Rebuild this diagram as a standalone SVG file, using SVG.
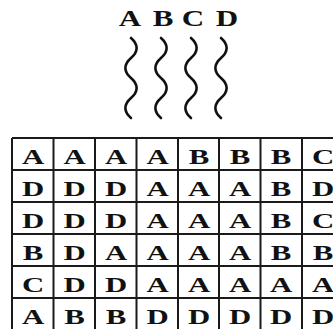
<svg xmlns="http://www.w3.org/2000/svg" width="333" height="329" viewBox="0 0 333 329">
<style>
.t{font-family:"Liberation Serif","Times New Roman",serif;font-weight:bold;font-size:22px;fill:#111;text-anchor:middle}
.h{font-size:23px}
.w{fill:none;stroke:#111;stroke-width:2.6;stroke-linecap:round}
.g{stroke:#1a1a1a;stroke-width:2;fill:none}
</style>
<rect width="333" height="329" fill="#fff"/>
<g id="labels">
<text class="t h" transform="translate(130,26) scale(1.35,1)">A</text>
<text class="t h" transform="translate(163,26) scale(1.35,1)">B</text>
<text class="t h" transform="translate(193,26) scale(1.35,1)">C</text>
<text class="t h" transform="translate(227,26) scale(1.35,1)">D</text>
</g>
<g id="waves">
<path class="w" d="M131,38 c7.5,6.5 7.5,13.5 0,20 s-7.5,13.5 0,20 s7.5,13.5 0,20 s-7.5,13.5 0,20"/>
<path class="w" d="M161,38 c7.5,6.5 7.5,13.5 0,20 s-7.5,13.5 0,20 s7.5,13.5 0,20 s-7.5,13.5 0,20"/>
<path class="w" d="M191,38 c7.5,6.5 7.5,13.5 0,20 s-7.5,13.5 0,20 s7.5,13.5 0,20 s-7.5,13.5 0,20"/>
<path class="w" d="M221,38 c7.5,6.5 7.5,13.5 0,20 s-7.5,13.5 0,20 s7.5,13.5 0,20 s-7.5,13.5 0,20"/>
</g>
<g id="grid" class="g">
<path d="M12,138H345M12,170H345M12,202H345M12,234H345M12,266H345M12,298H345M12,330H345"/>
<path d="M12,138V331M53.5,138V331M95,138V331M136.5,138V331M178,138V331M219,138V331M260.5,138V331M302,138V331M343.5,138V331"/>
</g>
<g id="row1">
<text class="t" transform="translate(33,164) scale(1.4,1)">A</text>
<text class="t" transform="translate(74.5,164) scale(1.4,1)">A</text>
<text class="t" transform="translate(116,164) scale(1.4,1)">A</text>
<text class="t" transform="translate(157.5,164) scale(1.4,1)">A</text>
<text class="t" transform="translate(199,164) scale(1.4,1)">B</text>
<text class="t" transform="translate(240,164) scale(1.4,1)">B</text>
<text class="t" transform="translate(281,164) scale(1.4,1)">B</text>
<text class="t" transform="translate(323,164) scale(1.4,1)">C</text>
</g>
<g id="row2">
<text class="t" transform="translate(33,196) scale(1.4,1)">D</text>
<text class="t" transform="translate(74.5,196) scale(1.4,1)">D</text>
<text class="t" transform="translate(116,196) scale(1.4,1)">D</text>
<text class="t" transform="translate(157.5,196) scale(1.4,1)">A</text>
<text class="t" transform="translate(199,196) scale(1.4,1)">A</text>
<text class="t" transform="translate(240,196) scale(1.4,1)">A</text>
<text class="t" transform="translate(281,196) scale(1.4,1)">B</text>
<text class="t" transform="translate(323,196) scale(1.4,1)">D</text>
</g>
<g id="row3">
<text class="t" transform="translate(33,228) scale(1.4,1)">D</text>
<text class="t" transform="translate(74.5,228) scale(1.4,1)">D</text>
<text class="t" transform="translate(116,228) scale(1.4,1)">D</text>
<text class="t" transform="translate(157.5,228) scale(1.4,1)">A</text>
<text class="t" transform="translate(199,228) scale(1.4,1)">A</text>
<text class="t" transform="translate(240,228) scale(1.4,1)">A</text>
<text class="t" transform="translate(281,228) scale(1.4,1)">B</text>
<text class="t" transform="translate(323,228) scale(1.4,1)">C</text>
</g>
<g id="row4">
<text class="t" transform="translate(33,260) scale(1.4,1)">B</text>
<text class="t" transform="translate(74.5,260) scale(1.4,1)">D</text>
<text class="t" transform="translate(116,260) scale(1.4,1)">A</text>
<text class="t" transform="translate(157.5,260) scale(1.4,1)">A</text>
<text class="t" transform="translate(199,260) scale(1.4,1)">A</text>
<text class="t" transform="translate(240,260) scale(1.4,1)">A</text>
<text class="t" transform="translate(281,260) scale(1.4,1)">B</text>
<text class="t" transform="translate(323,260) scale(1.4,1)">B</text>
</g>
<g id="row5">
<text class="t" transform="translate(33,292) scale(1.4,1)">C</text>
<text class="t" transform="translate(74.5,292) scale(1.4,1)">D</text>
<text class="t" transform="translate(116,292) scale(1.4,1)">D</text>
<text class="t" transform="translate(157.5,292) scale(1.4,1)">A</text>
<text class="t" transform="translate(199,292) scale(1.4,1)">A</text>
<text class="t" transform="translate(240,292) scale(1.4,1)">A</text>
<text class="t" transform="translate(281,292) scale(1.4,1)">A</text>
<text class="t" transform="translate(323,292) scale(1.4,1)">A</text>
</g>
<g id="row6">
<text class="t" transform="translate(33,324) scale(1.4,1)">A</text>
<text class="t" transform="translate(74.5,324) scale(1.4,1)">B</text>
<text class="t" transform="translate(116,324) scale(1.4,1)">B</text>
<text class="t" transform="translate(157.5,324) scale(1.4,1)">D</text>
<text class="t" transform="translate(199,324) scale(1.4,1)">D</text>
<text class="t" transform="translate(240,324) scale(1.4,1)">D</text>
<text class="t" transform="translate(281,324) scale(1.4,1)">D</text>
<text class="t" transform="translate(323,324) scale(1.4,1)">D</text>
</g>
</svg>
